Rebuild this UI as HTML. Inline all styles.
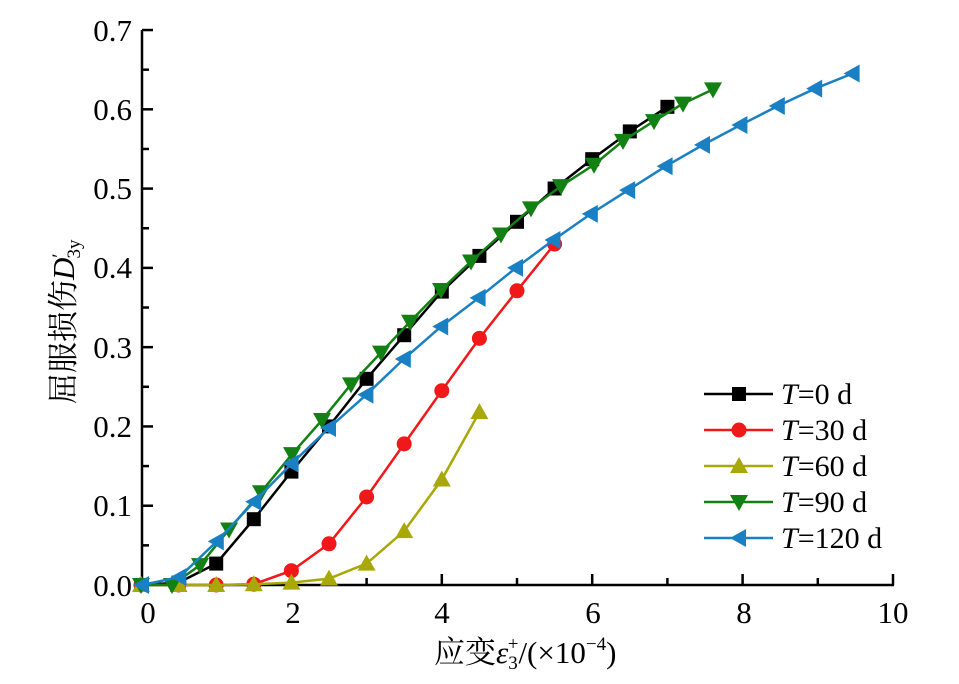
<!DOCTYPE html>
<html><head><meta charset="utf-8"><style>
html,body{margin:0;padding:0;background:#fff;width:959px;height:684px;overflow:hidden}
svg text{font-family:"Liberation Serif","Noto Serif CJK SC",serif;fill:#000}
</style></head><body>
<svg id="s" width="959" height="684" viewBox="0 0 959 684" xmlns="http://www.w3.org/2000/svg">
<g stroke="#000" stroke-width="2.5" fill="none">
<line x1="142" y1="30" x2="142" y2="586"/>
<line x1="141" y1="585" x2="894" y2="585"/>
</g>
<g id="ticks" stroke="#000" stroke-width="2.5"></g>
<g font-size="31" text-anchor="end">
<text x="132" y="41">0.7</text>
<text x="132" y="120">0.6</text>
<text x="132" y="199">0.5</text>
<text x="132" y="278">0.4</text>
<text x="132" y="358">0.3</text>
<text x="132" y="437">0.2</text>
<text x="132" y="516">0.1</text>
<text x="132" y="596">0.0</text>
</g>
<g font-size="31" text-anchor="middle">
<text x="148" y="623">0</text>
<text x="293" y="623">2</text>
<text x="442" y="623">4</text>
<text x="593" y="623">6</text>
<text x="744" y="623">8</text>
<text x="893" y="623">10</text>
</g>
<text x="434" y="663" font-size="31">应变<tspan font-style="italic">ε</tspan><tspan font-size="19" dy="6">3</tspan><tspan font-size="19" dx="-10" dy="-19">+</tspan><tspan dy="13">/(×10</tspan><tspan font-size="19" dy="-13">−4</tspan><tspan dy="13">)</tspan></text>
<text transform="translate(74,404) rotate(-90)" font-size="31">屈服损伤<tspan font-style="italic">D</tspan><tspan font-size="19" dy="-9">′</tspan><tspan font-size="19" dx="-5" dy="15">3y</tspan></text>
<g id="series"></g>
<g id="legend"></g>
<g font-size="30">
<text x="781" y="404"><tspan font-style="italic">T</tspan>=0 d</text>
<text x="781" y="440"><tspan font-style="italic">T</tspan>=30 d</text>
<text x="781" y="476"><tspan font-style="italic">T</tspan>=60 d</text>
<text x="781" y="512"><tspan font-style="italic">T</tspan>=90 d</text>
<text x="781" y="548"><tspan font-style="italic">T</tspan>=120 d</text>
</g>
</svg>
<script>
var NS="http://www.w3.org/2000/svg";
function el(t,a,p){var e=document.createElementNS(NS,t);for(var k in a)e.setAttribute(k,a[k]);p.appendChild(e);return e;}
var tk=document.getElementById('ticks');
for(var i=0;i<=14;i++){var y=585-i*39.64;el('line',{x1:142,y1:y,x2:i%2?149:153,y2:y},tk);}
for(var i=1;i<=10;i++){var x=141+i*75.2;el('line',{x1:x,y1:585,x2:x,y2:i%2?578:574},tk);}
function X(v){return 141+v*75.2;} function Y(v){return 585-v*793;}
var S=[
 {c:'#000',m:'sq',d:[[0,0],[0.5,0.003],[1,0.027],[1.5,0.083],[2,0.143],[2.5,0.2],[3,0.26],[3.5,0.315],[4,0.37],[4.5,0.415],[5,0.458],[5.5,0.5],[6,0.537],[6.5,0.572],[7,0.603]]},
 {c:'#f01818',m:'ci',d:[[0,0],[0.5,0],[1,0],[1.5,0.001],[2,0.018],[2.5,0.052],[3,0.111],[3.5,0.178],[4,0.245],[4.5,0.311],[5,0.371],[5.5,0.43]]},
 {c:'#a8a80a',m:'tu',d:[[0,0],[0.5,0],[1,0],[1.5,0.001],[2,0.003],[2.5,0.008],[3,0.027],[3.5,0.068],[4,0.133],[4.5,0.218]]},
 {c:'#138013',m:'td',px:[141,172,200,229,261,292,322,351,381,410,441,471,501,531,561,594,623,654,683,713],d:[0,0,0.025,0.07,0.117,0.165,0.208,0.253,0.293,0.332,0.372,0.408,0.442,0.475,0.503,0.53,0.56,0.585,0.607,0.625]},
 {c:'#1a80c4',m:'tl',d:[0,0.01,0.055,0.105,0.153,0.198,0.24,0.285,0.326,0.362,0.4,0.435,0.468,0.498,0.528,0.555,0.58,0.604,0.626,0.645]}
];
function mk(m,x,y,c,g){
 if(m=='sq')el('rect',{x:x-7,y:y-7,width:14,height:14,fill:c},g);
 else if(m=='ci')el('circle',{cx:x,cy:y,r:7.5,fill:c},g);
 else if(m=='tu')el('polygon',{points:(x-9)+','+(y+7)+' '+(x+9)+','+(y+7)+' '+x+','+(y-9),fill:c},g);
 else if(m=='td')el('polygon',{points:(x-9)+','+(y-7)+' '+(x+9)+','+(y-7)+' '+x+','+(y+9),fill:c},g);
 else el('polygon',{points:(x+7)+','+(y-9)+' '+(x+7)+','+(y+9)+' '+(x-9)+','+y,fill:c},g);
}
var sg=document.getElementById('series'),lg=document.getElementById('legend');
S.forEach(function(s,k){
 var pts=[];
 if(s.m=='td')s.d.forEach(function(v,i){pts.push([s.px[i],Y(v)]);});
 else if(s.m=='tl')s.d.forEach(function(v,i){pts.push([142+i*37.4,Y(v)]);});
 else s.d.forEach(function(p){pts.push([X(p[0]),Y(p[1])]);});
 var g=el('g',{},sg);
 el('polyline',{points:pts.map(function(p){return p.join(',')}).join(' '),fill:'none',stroke:s.c,'stroke-width':2.5},g);
 pts.forEach(function(p){mk(s.m,p[0],p[1],s.c,g);});
 var ly=394+k*36;
 el('line',{x1:704,y1:ly,x2:773,y2:ly,stroke:s.c,'stroke-width':2.5},lg);
 mk(s.m,739,ly,s.c,lg);
});
</script>
</body></html>
